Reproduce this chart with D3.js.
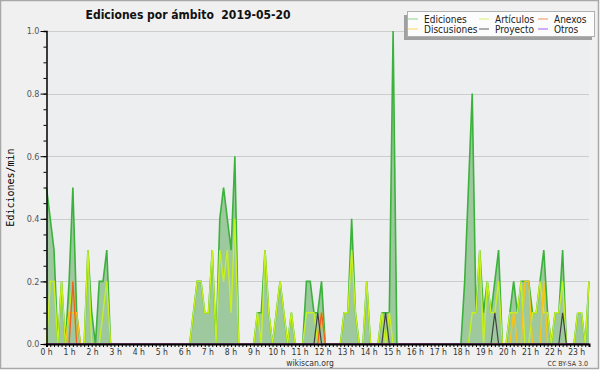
<!DOCTYPE html>
<html>
<head>
<meta charset="utf-8">
<script src="https://cdn.jsdelivr.net/npm/d3@7"></script>
<style>
body { margin: 0; background: #fff; }
text { font-family: "DejaVu Sans Condensed", "DejaVu Sans", sans-serif; font-stretch: condensed; }
</style>
</head>
<body>
<div id="chart"></div>
<script>
// one value every 10 minutes, 00:00 -> 24:00 (edits per minute)
var ediciones = [
  0.5,0.4,0.3,0,0.2,0,   0.2,0.5,0.1,0,0,0.3,   0.1,0,0.2,0.2,0.3,0,   0,0,0,0,0,0,
  0,0,0,0,0,0,           0,0,0,0,0,0,           0,0,0,0.1,0.2,0.2,     0.1,0.1,0.3,0,0.4,0.5,
  0.4,0.3,0.6,0,0,0,     0,0,0.1,0.1,0.3,0.1,   0,0.1,0.2,0.1,0,0.1,   0,0,0,0.2,0.2,0.1,
  0.1,0.2,0,0,0,0,       0,0.1,0.1,0.4,0.1,0,   0,0.2,0,0,0,0.1,       0.1,0.1,1.0,0,0,0,
  0,0,0,0,0,0,           0,0,0,0,0,0,           0,0,0,0.2,0.5,0.8,     0.1,0.3,0.1,0.2,0.1,0.2,
  0.3,0,0,0.1,0.2,0.1,   0.2,0.2,0.2,0.1,0.1,0.2, 0.3,0.1,0,0.1,0.1,0.3, 0,0,0,0.1,0.1,0,
  0.2];
var articulos = [
  0,0.2,0.2,0,0.2,0,     0.1,0.2,0,0,0,0.3,     0,0,0,0.1,0.2,0,       0,0,0,0,0,0,
  0,0,0,0,0,0,           0,0,0,0,0,0,           0,0,0,0.1,0.2,0.2,     0.1,0.1,0.3,0,0.3,0.2,
  0.3,0.1,0.4,0,0,0,     0,0,0.1,0,0.3,0.1,     0,0.1,0.2,0.1,0,0.1,   0,0,0,0.1,0.1,0.1,
  0,0.1,0,0,0,0,         0,0.1,0.1,0.3,0.1,0,   0,0.2,0,0,0,0.1,       0,0.1,0,0,0,0,
  0,0,0,0,0,0,           0,0,0,0,0,0,           0,0,0,0,0,0.1,         0.1,0.3,0,0.2,0.1,0.1,
  0.2,0,0,0.1,0.1,0.1,   0.2,0,0,0.1,0.1,0.2,   0.1,0.1,0,0.1,0.1,0.2, 0,0,0,0.1,0.1,0,
  0.2];
var discusiones = [
  0,0,0,0,0,0,  0.1,0.1,0.1,0,0,0,  0,0,0,0,0,0,  0,0,0,0,0,0,
  0,0,0,0,0,0,  0,0,0,0,0,0,        0,0,0,0,0,0,  0,0,0,0,0,0,
  0,0,0,0,0,0,  0,0,0,0,0,0,        0,0,0,0,0,0,  0,0,0,0,0,0,
  0,0,0,0,0,0,  0,0,0,0,0,0,        0,0,0,0,0,0,  0,0,0,0,0,0,
  0,0,0,0,0,0,  0,0,0,0,0,0,        0,0,0,0,0,0,  0,0,0,0,0,0,
  0,0,0,0,0.1,0, 0,0.2,0.2,0,0,0,   0.2,0,0,0,0,0, 0,0,0,0,0,0,
  0];
var anexos = [
  0,0,0,0,0,0,  0,0.2,0,0,0,0,  0,0,0,0,0,0,  0,0,0,0,0,0,
  0,0,0,0,0,0,  0,0,0,0,0,0,    0,0,0,0,0,0,  0,0,0,0,0,0,
  0,0,0,0,0,0,  0,0,0,0,0,0,    0,0,0,0,0,0,  0,0,0,0,0,0,
  0,0.1,0,0,0,0, 0,0,0,0,0,0,   0,0,0,0,0,0,  0,0,0,0,0,0,
  0,0,0,0,0,0,  0,0,0,0,0,0,    0,0,0,0,0,0,  0,0,0,0,0,0,
  0,0,0,0,0,0,  0,0,0,0,0,0,    0,0,0,0,0,0,  0,0,0,0,0,0,
  0];
var proyecto = [
  0,0,0,0,0,0,  0,0,0,0,0,0,  0,0,0,0,0,0,  0,0,0,0,0,0,
  0,0,0,0,0,0,  0,0,0,0,0,0,  0,0,0,0,0,0,  0,0,0,0,0,0,
  0,0,0,0,0,0,  0,0,0,0,0,0,  0,0,0,0,0,0,  0,0,0,0,0,0,
  0.1,0,0,0,0,0, 0,0,0,0,0,0, 0,0,0,0,0,0,  0.1,0,0,0,0,0,
  0,0,0,0,0,0,  0,0,0,0,0,0,  0,0,0,0,0,0,  0,0,0,0,0,0.1,
  0,0,0,0,0,0,  0,0,0,0,0,0,  0,0,0,0,0,0.1, 0,0,0,0,0,0,
  0];
var otros = d3.range(145).map(function() { return 0 });

var hourLabels = d3.range(24).map(function(h) { return h + " h" });
var yTicks = [0, 0.2, 0.4, 0.6, 0.8, 1.0];

var W = 600, H = 370;
var m = {left: 46, right: 11, top: 31, bottom: 26};

var svg = d3.select("#chart").append("svg")
  .attr("width", W).attr("height", H);

svg.append("rect").attr("x", 0.5).attr("y", 0.5)
  .attr("width", W - 2).attr("height", H - 2)
  .attr("fill", "#f0f0f0").attr("stroke", "#a8a8a8").attr("stroke-width", 1.5);

var x = d3.scaleLinear().domain([0, 24]).range([m.left + 0.5, W - m.right]);
var y = d3.scaleLinear().domain([0, 1]).range([H - m.bottom, m.top]);
// hour labels in the original drift slightly right of their ticks
var xLab = d3.scaleLinear().domain([0, 24]).range([m.left, m.left + 24 * 23.05]);

svg.append("rect")
  .attr("x", x(0)).attr("y", y(1))
  .attr("width", x(24) - x(0)).attr("height", y(0) - y(1))
  .attr("fill", "#edeef0");

// grid
svg.append("g").selectAll("line")
  .data(yTicks.slice(1)).enter().append("line")
  .attr("x1", x(0)).attr("x2", x(24))
  .attr("y1", function(d) { return Math.round(y(d)) + 0.5 })
  .attr("y2", function(d) { return Math.round(y(d)) + 0.5 })
  .attr("stroke", "#cdcdcd").attr("stroke-width", 1);

var px = function(d, i) { return x(i / 6) };

svg.append("path").datum(ediciones)
  .attr("fill", "#9ec99e")
  .attr("d", d3.area().x(px).y0(y(0)).y1(function(d) { return y(d) }));

var series = [
  {name: "Ediciones", values: ediciones, color: "#3bb23b", w: 1.6, legend: "#8fd08f"},
  {name: "Artículos", values: articulos, color: "#c6f01e", w: 1.4, legend: "#d6f070"},
  {name: "Anexos", values: anexos, color: "#f06020", w: 1.4, legend: "#f09060"},
  {name: "Discusiones", values: discusiones, color: "#f8c418", w: 1.4, legend: "#f8d860"},
  {name: "Proyecto", values: proyecto, color: "#404040", w: 1.2, legend: "#606060"},
  {name: "Otros", values: otros, color: "#9040e8", w: 1.2, legend: "#a060f0"}
];

var line = d3.line().x(px).y(function(d) { return y(d) });

// draw total first, then namespaces on top
[0, 1, 3, 2, 4, 5].forEach(function(k) {
  var s = series[k];
  svg.append("path").datum(s.values)
    .attr("fill", "none")
    .attr("stroke", s.color)
    .attr("stroke-width", s.w)
    .attr("d", line);
});

// x axis
var xAxis = svg.append("g")
  .attr("transform", "translate(0," + y(0) + ")")
  .call(d3.axisBottom(x).tickValues(d3.range(0, 24.01, 1 / 6)).tickSize(3).tickFormat(""));
xAxis.select(".domain").attr("stroke", "#000").attr("stroke-width", 2);
xAxis.selectAll(".tick line").attr("stroke", "#000");

var xLabels = svg.append("g")
  .attr("transform", "translate(0," + (y(0) + 2) + ")")
  .call(d3.axisBottom(xLab).tickValues(d3.range(24)).tickSize(0)
    .tickFormat(function(d) { return hourLabels[d] }));
xLabels.select(".domain").remove();
xLabels.selectAll("text").attr("fill", "#333")
  .style("font-size", "8.5px");

// y axis
var yMinor = svg.append("g")
  .attr("transform", "translate(" + x(0) + ",0)")
  .call(d3.axisLeft(y).tickValues(d3.range(0, 1.01, 0.05)).tickSize(3).tickFormat(""));
yMinor.select(".domain").attr("stroke", "#000").attr("stroke-width", 1.5);

var yAxis = svg.append("g")
  .attr("transform", "translate(" + x(0) + ",0)")
  .call(d3.axisLeft(y).tickValues(yTicks).tickSize(6).tickPadding(1).tickFormat(d3.format(".1f")));
yAxis.select(".domain").remove();
yAxis.selectAll(".tick line").attr("stroke", "#000");
yAxis.selectAll("text").attr("fill", "#555").style("font-size", "9px");

svg.append("text")
  .attr("transform", "translate(14," + ((y(0) + y(1)) / 2) + ") rotate(-90)")
  .attr("text-anchor", "middle")
  .style("font-family", "'DejaVu Sans Mono', monospace")
  .style("font-stretch", "normal")
  .style("font-size", "10px")
  .attr("fill", "#000")
  .text("Ediciones/min");

// title
svg.append("text")
  .attr("x", 188).attr("y", 19)
  .attr("text-anchor", "middle")
  .style("white-space", "pre")
  .style("font-size", "12px").style("font-weight", "bold")
  .attr("fill", "#111")
  .text("Ediciones por ámbito  2019-05-20");

// footer
svg.append("text").attr("x", 310).attr("y", 365.5)
  .attr("text-anchor", "middle").style("font-size", "8.5px").attr("fill", "#333")
  .text("wikiscan.org");
svg.append("text").attr("x", 588).attr("y", 365.5)
  .attr("text-anchor", "end").style("font-size", "7px").attr("fill", "#333")
  .text("CC BY-SA 3.0");

// legend
var lg = svg.append("g");
lg.append("rect").attr("x", 404).attr("y", 15).attr("width", 188).attr("height", 25)
  .attr("fill", "#a0a0a0");
lg.append("rect").attr("x", 407.5).attr("y", 11.5).attr("width", 187).attr("height", 25)
  .attr("fill", "#fcfcfc").attr("stroke", "#b0b0b0");

var legendPos = [
  {k: 0, x: 408, y: 22}, {k: 1, x: 479, y: 22}, {k: 2, x: 538, y: 22},
  {k: 3, x: 408, y: 32}, {k: 4, x: 479, y: 32}, {k: 5, x: 538, y: 32}
];
var items = lg.selectAll(".item").data(legendPos).enter().append("g").attr("class", "item");
items.append("line")
  .attr("x1", function(d) { return d.x }).attr("x2", function(d) { return d.x + 10 })
  .attr("y1", function(d) { return d.y - 3 }).attr("y2", function(d) { return d.y - 3 })
  .attr("stroke", function(d) { return series[d.k].legend }).attr("stroke-width", 1);
items.append("text")
  .attr("x", function(d) { return d.x + 16 }).attr("y", function(d) { return d.y + 1 })
  .style("font-size", "10px").attr("fill", "#222")
  .text(function(d) { return series[d.k].name });
</script>
</body>
</html>
